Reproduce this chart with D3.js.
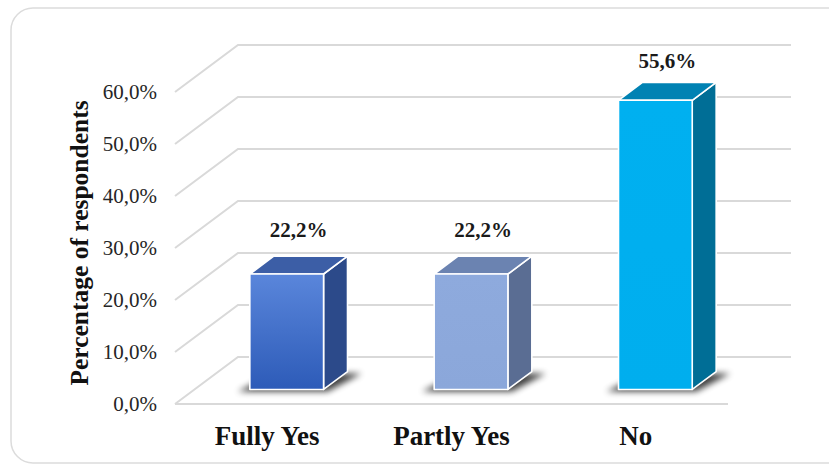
<!DOCTYPE html>
<html>
<head>
<meta charset="utf-8">
<script src="https://cdn.jsdelivr.net/npm/d3@7"></script>
<style>
    body { margin: 0; background: #fff; }
    svg { display: block; font-family: "Liberation Serif", "Times New Roman", serif; }
</style>
</head>
<body>
<div id="chart"></div>
<script>
// data
const categories = ['Fully Yes', 'Partly Yes', 'No'];
const values = [0.222, 0.222, 0.556];
const valueLabels = ['22,2%', '22,2%', '55,6%'];
const yTicks = [0, 0.1, 0.2, 0.3, 0.4, 0.5, 0.6];
const yTickLabels = ['0,0%', '10,0%', '20,0%', '30,0%', '40,0%', '50,0%', '60,0%'];

// bar colours: front, side, top
const FRONT_TOP = ['#5a86db', '#8eaadd', '#00b0f0'];
const FRONT_BOTTOM = ['#2d5bb8', '#8ba7da', '#00aeee'];
const SIDE = ['#2c4a8a', '#5a6d93', '#006e96'];
const TOP = ['#3c5ea6', '#6b83b1', '#0082b3'];

const W = 829, H = 465;

// front plane + 3d offset of the back wall
const depth = { dx: 63, dy: -47 };
const f0 = 0.31, f1 = 0.69;   // bar front/back as fraction of the depth

const x = d3.scaleBand().domain(categories).range([175, 728]).padding(0);
const y = d3.scaleLinear().domain([0, 0.6]).range([404, 92]);
const barW = x.bandwidth() * 0.4;

const svg = d3.select('#chart').append('svg')
    .attr('width', W)
    .attr('height', H);

const defs = svg.append('defs');
categories.forEach((c, i) => {
    const g = defs.append('linearGradient')
        .attr('id', 'grad' + i)
        .attr('x1', 0).attr('y1', 0).attr('x2', 0).attr('y2', 1);
    g.append('stop').attr('offset', '0%').attr('stop-color', FRONT_TOP[i]);
    g.append('stop').attr('offset', '100%').attr('stop-color', FRONT_BOTTOM[i]);
});
defs.append('filter').attr('id', 'blur')
    .attr('x', '-50%').attr('y', '-50%').attr('width', '200%').attr('height', '200%')
    .append('feGaussianBlur').attr('stdDeviation', 3);

// outer rounded border
svg.append('rect')
    .attr('x', 11).attr('y', 8)
    .attr('width', 840).attr('height', 455)
    .attr('rx', 22)
    .attr('fill', '#fff')
    .attr('stroke', '#dcdcdc')
    .attr('stroke-width', 1.5);

// gridlines: diagonal on the left wall + line along the back wall
const grid = svg.append('g').attr('stroke', '#d9d9d9').attr('stroke-width', 2).attr('fill', 'none');
const x0 = x.range()[0], x1 = x.range()[1];
yTicks.forEach(t => {
    const yy = y(t);
    grid.append('path')
        .attr('d', `M${x0},${yy} L${x0 + depth.dx},${yy + depth.dy} L${x1 + depth.dx},${yy + depth.dy}`);
});
// front floor edge
grid.append('line')
    .attr('x1', x0).attr('x2', x1)
    .attr('y1', y(0)).attr('y2', y(0));

// tick labels
svg.append('g').selectAll('text')
    .data(yTicks)
    .join('text')
    .attr('x', 157)
    .attr('y', d => y(d))
    .attr('dy', '0.35em')
    .attr('text-anchor', 'end')
    .attr('font-size', 21)
    .attr('fill', '#262626')
    .text((d, i) => yTickLabels[i]);

// axis title
svg.append('text')
    .attr('transform', `translate(88,${243}) rotate(-90)`)
    .attr('text-anchor', 'middle')
    .attr('font-size', 25.5)
    .attr('font-weight', 'bold')
    .attr('fill', '#111')
    .text('Percentage of respondents');

// bars
const bars = svg.append('g');
categories.forEach((c, i) => {
    const ox = f0 * depth.dx, oy = f0 * depth.dy;
    const bx = (f1 - f0) * depth.dx, by = (f1 - f0) * depth.dy;
    const left = x(c) + (x.bandwidth() - barW) / 2 + ox;
    const right = left + barW;
    const bottom = y(0) + oy;
    const top = y(values[i]) + oy;

    // soft shadow under the footprint
    bars.append('path')
        .attr('d', `M${left - 12},${bottom + 2} L${right + 4},${bottom + 2} L${right + bx + 14},${bottom + by + 2} L${left + bx},${bottom + by + 2} Z`)
        .attr('fill', '#000')
        .attr('opacity', 0.75)
        .attr('filter', 'url(#blur)');

    const g = bars.append('g').attr('stroke', '#fff').attr('stroke-width', 1.6).attr('stroke-linejoin', 'round');
    // side
    g.append('path')
        .attr('d', `M${right},${top} L${right + bx},${top + by} L${right + bx},${bottom + by} L${right},${bottom} Z`)
        .attr('fill', SIDE[i]);
    // top
    g.append('path')
        .attr('d', `M${left},${top} L${left + bx},${top + by} L${right + bx},${top + by} L${right},${top} Z`)
        .attr('fill', TOP[i]);
    // front
    g.append('rect')
        .attr('x', left).attr('y', top)
        .attr('width', barW).attr('height', bottom - top)
        .attr('fill', `url(#grad${i})`);

    // value label
    svg.append('text')
        .attr('x', left + barW / 2 + bx / 2)
        .attr('y', top + by - (i === 2 ? 14 : 19))
        .attr('text-anchor', 'middle')
        .attr('font-size', 21)
        .attr('font-weight', 'bold')
        .attr('fill', '#1a1a1a')
        .text(valueLabels[i]);
});

// category labels
svg.append('g').selectAll('text')
    .data(categories)
    .join('text')
    .attr('x', d => x(d) + x.bandwidth() / 2)
    .attr('y', 445)
    .attr('text-anchor', 'middle')
    .attr('font-size', 27)
    .attr('font-weight', 'bold')
    .attr('fill', '#111')
    .text(d => d);
</script>
</body>
</html>
